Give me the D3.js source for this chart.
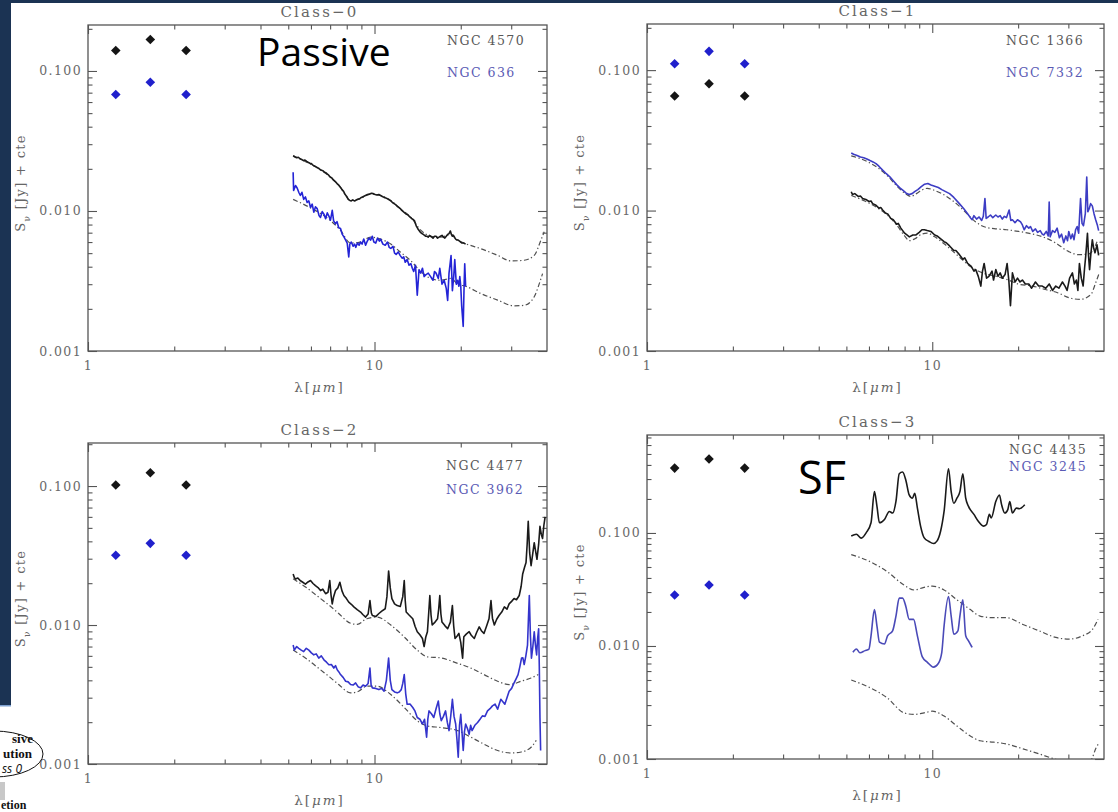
<!DOCTYPE html>
<html>
<head>
<meta charset="utf-8">
<script src="https://cdn.jsdelivr.net/npm/d3@7"></script>
<style>
  html, body { margin: 0; padding: 0; background: #fff; }
  svg { display: block; }
</style>
</head>
<body>
<svg id="fig" width="1118" height="812"></svg>
<script>
// ---------- data ----------
// near-IR photometry bands (J, H, Ks) in micron
const bandWavelengths = [1.25, 1.65, 2.2];

const panelTitles = ["Class\u22120", "Class\u22121", "Class\u22122", "Class\u22123"];
const blackGalaxies = ["NGC 4570", "NGC 1366", "NGC 4477", "NGC 4435"];
const blueGalaxies = ["NGC 636", "NGC 7332", "NGC 3962", "NGC 3245"];

const xTickValues = [1, 10];
const xTickLabels = ["1", "10"];
const yTickValues = [0.001, 0.01, 0.1];
const yTickLabels = ["0.001", "0.010", "0.100"];

// ---- Class-0 ----
const class0BlackPhot = [0.140, 0.168, 0.140];
const class0BluePhot = [0.068, 0.083, 0.068];
const class0BlackSpec = [[5.2,0.0248],[5.28,0.0243],[5.35,0.0240],[5.42,0.0242],[5.5,0.0236],[5.57,0.0233],[5.65,0.0229],[5.72,0.0231],[5.8,0.0226],[5.88,0.0222],[5.95,0.0219],[6.02,0.0218],[6.1,0.0212],[6.2,0.0209],[6.3,0.0205],[6.4,0.0201],[6.5,0.0196],[6.6,0.0194],[6.7,0.0189],[6.78,0.0187],[6.85,0.0183],[6.92,0.0180],[7.0,0.0175],[7.1,0.0172],[7.2,0.0166],[7.3,0.0162],[7.4,0.0157],[7.5,0.0153],[7.6,0.0148],[7.7,0.0142],[7.8,0.0138],[7.9,0.0131],[8.0,0.0127],[8.1,0.0121],[8.2,0.0119],[8.3,0.0118],[8.4,0.0120],[8.5,0.0118],[8.6,0.0119],[8.7,0.0121],[8.8,0.0122],[8.9,0.0123],[9.0,0.0125],[9.15,0.0127],[9.3,0.0129],[9.45,0.0131],[9.6,0.0132],[9.75,0.0134],[9.9,0.0133],[10.05,0.0131],[10.2,0.0130],[10.35,0.0131],[10.5,0.0129],[10.65,0.0127],[10.8,0.0125],[10.95,0.0124],[11.1,0.0122],[11.25,0.0120],[11.4,0.0118],[11.55,0.0115],[11.7,0.0113],[11.85,0.0111],[12.0,0.0108],[12.15,0.0106],[12.3,0.0104],[12.45,0.0101],[12.6,0.0099],[12.75,0.0097],[12.9,0.0095],[13.05,0.0094],[13.2,0.0092],[13.35,0.0090],[13.5,0.0088],[13.65,0.0087],[13.8,0.0085],[13.9,0.0081],[14.0,0.0078],[14.1,0.0076],[14.2,0.0074],[14.35,0.0072],[14.5,0.0070],[14.65,0.0069],[14.8,0.0068],[14.95,0.0067],[15.1,0.0066],[15.25,0.0066],[15.4,0.0065],[15.55,0.0067],[15.7,0.0066],[15.85,0.0065],[16.0,0.0064],[16.2,0.0066],[16.4,0.0066],[16.6,0.0064],[16.8,0.0065],[17.0,0.0066],[17.2,0.0067],[17.4,0.0065],[17.6,0.0064],[17.8,0.0066],[18.0,0.0068],[18.2,0.0069],[18.4,0.0072],[18.55,0.0068],[18.7,0.0066],[18.85,0.0067],[19.0,0.0065],[19.2,0.0063],[19.4,0.0062],[19.6,0.0062],[19.8,0.0061],[20.0,0.0060],[20.2,0.0059],[20.5,0.0059],[20.8,0.0058]];
const class0BlackModel = [[5.2,0.0248],[6.1,0.0211],[6.8,0.0184],[7.6,0.0148],[8.25,0.0119],[8.9,0.0122],[9.7,0.0132],[10.5,0.0129],[11.4,0.0119],[12.3,0.0104],[13.4,0.0090],[14.5,0.0073],[15.7,0.0066],[17.0,0.0065],[18.5,0.0068],[19.5,0.0062],[20.8,0.00584],[23.5,0.00538],[26.9,0.00482],[29.9,0.0044],[33.3,0.00445],[36.1,0.00482],[38.1,0.0062],[39.1,0.0071]];
const class0BlueSpec = [[5.2,0.0189],[5.22,0.0140],[5.3,0.0152],[5.37,0.0146],[5.45,0.0135],[5.51,0.0129],[5.58,0.0136],[5.66,0.0121],[5.74,0.0126],[5.82,0.0115],[5.9,0.0118],[5.98,0.0106],[6.06,0.0112],[6.14,0.0098],[6.22,0.0107],[6.31,0.0104],[6.4,0.0093],[6.48,0.0090],[6.57,0.0099],[6.66,0.0095],[6.75,0.0088],[6.84,0.0097],[6.93,0.0092],[7.02,0.0086],[7.12,0.0101],[7.2,0.0085],[7.31,0.0081],[7.4,0.0084],[7.5,0.0076],[7.61,0.0075],[7.72,0.0068],[7.83,0.0065],[7.93,0.0062],[8.03,0.0059],[8.13,0.0047],[8.2,0.0058],[8.3,0.0060],[8.42,0.0056],[8.52,0.0058],[8.6,0.0055],[8.72,0.0059],[8.84,0.0057],[8.94,0.0060],[9.05,0.0058],[9.17,0.0063],[9.31,0.0057],[9.44,0.0061],[9.56,0.0064],[9.69,0.0062],[9.82,0.0066],[9.95,0.0060],[10.1,0.0059],[10.25,0.0064],[10.4,0.0061],[10.5,0.0063],[10.7,0.0058],[10.9,0.0057],[11.1,0.0060],[11.25,0.0055],[11.4,0.0054],[11.6,0.0056],[11.75,0.0050],[11.9,0.0049],[12.1,0.0051],[12.3,0.0048],[12.5,0.0046],[12.65,0.0047],[12.8,0.0043],[13.0,0.0045],[13.2,0.0041],[13.4,0.0042],[13.55,0.0039],[13.7,0.0037],[13.9,0.0041],[14.1,0.0025],[14.3,0.0038],[14.5,0.0036],[14.7,0.0039],[14.9,0.0034],[15.1,0.0035],[15.4,0.0036],[15.7,0.0034],[16.0,0.0032],[16.2,0.0037],[16.4,0.0036],[16.7,0.0033],[16.9,0.0039],[17.2,0.0030],[17.5,0.0032],[17.8,0.0028],[18.0,0.0023],[18.2,0.0036],[18.5,0.0048],[18.7,0.0027],[18.9,0.0034],[19.06,0.0045],[19.3,0.0030],[19.5,0.0032],[19.7,0.0029],[19.85,0.0034],[20.0,0.0029],[20.15,0.0021],[20.4,0.0015],[20.55,0.0030],[20.65,0.0042],[20.8,0.0029]];
const class0BlueModel = [[5.2,0.0121],[6.1,0.0103],[6.8,0.0090],[7.6,0.0073],[8.25,0.0059],[8.9,0.0060],[9.7,0.0065],[10.5,0.0063],[11.4,0.0058],[12.3,0.0051],[13.4,0.0044],[14.5,0.0037],[15.7,0.0033],[17.0,0.0032],[18.5,0.0033],[19.5,0.0030],[20.8,0.0029],[23.5,0.00257],[26.9,0.00231],[30.7,0.0021],[33.3,0.00212],[36.1,0.00244],[37.6,0.00303],[38.6,0.00357]];

// ---- Class-1 ----
const class1BlackPhot = [0.0655, 0.080, 0.0655];
const class1BluePhot = [0.111, 0.136, 0.111];
const class1BlackSpec = [[5.2,0.0136],[5.25,0.0130],[5.35,0.0132],[5.5,0.0126],[5.6,0.0127],[5.7,0.0122],[5.85,0.0120],[6.0,0.0116],[6.1,0.0117],[6.18,0.0112],[6.35,0.0109],[6.5,0.0104],[6.6,0.0105],[6.7,0.0101],[6.85,0.0096],[7.0,0.0094],[7.15,0.0088],[7.3,0.0086],[7.5,0.0080],[7.6,0.0081],[7.76,0.0075],[8.0,0.0069],[8.15,0.0067],[8.31,0.0065],[8.55,0.0067],[8.77,0.0067],[9.0,0.0070],[9.2,0.0073],[9.38,0.0073],[9.6,0.0072],[9.89,0.0071],[10.2,0.0067],[10.4,0.0066],[10.6,0.0064],[11.0,0.0060],[11.2,0.0059],[11.5,0.0056],[11.9,0.0052],[12.1,0.0052],[12.4,0.0049],[12.8,0.0045],[13.0,0.0046],[13.3,0.0042],[13.7,0.0040],[14.0,0.0037],[14.2,0.0038],[14.5,0.0034],[14.8,0.0029],[15.0,0.0037],[15.2,0.0042],[15.5,0.0033],[15.8,0.0034],[16.2,0.0037],[16.4,0.0032],[16.7,0.0038],[17.0,0.0034],[17.3,0.0036],[17.6,0.0033],[18.0,0.0035],[18.3,0.0042],[18.55,0.0032],[18.8,0.0021],[19.1,0.0036],[19.5,0.0031],[19.9,0.0033],[20.3,0.0031],[20.7,0.0032],[21.2,0.0030],[21.8,0.0030],[22.3,0.0028],[23.0,0.0031],[23.6,0.0029],[24.3,0.0029],[25.0,0.0028],[25.7,0.0030],[26.4,0.0027],[27.1,0.0029],[27.8,0.0028],[28.6,0.0031],[29.2,0.0029],[29.7,0.0027],[30.3,0.0033],[31.0,0.0036],[31.5,0.0030],[32.0,0.0032],[32.4,0.0027],[32.8,0.0042],[33.3,0.0033],[33.8,0.0029],[34.2,0.0039],[34.5,0.0047],[35.0,0.0069],[35.3,0.0048],[35.6,0.0038],[36.0,0.0050],[36.4,0.0062],[36.8,0.0054],[37.2,0.0050],[37.8,0.0057],[38.3,0.0048]];
const class1BlackModel = [[5.2,0.0128],[5.8,0.0117],[6.4,0.0105],[7.0,0.0092],[7.5,0.0079],[8.0,0.0066],[8.3,0.0061],[8.7,0.0063],[9.2,0.0068],[9.6,0.0069],[10.2,0.0065],[11.0,0.0058],[12.4,0.0047],[13.6,0.0040],[15.0,0.0036],[16.8,0.0034],[18.5,0.0032],[20.0,0.0030],[22.5,0.0029],[24.9,0.00274],[27.5,0.0026],[30.1,0.0024],[33.0,0.00233],[36.0,0.00253],[37.4,0.00306],[38.5,0.0036]];
const class1BlueSpec = [[5.2,0.0257],[5.3,0.0252],[5.45,0.0247],[5.6,0.0241],[5.75,0.0238],[5.9,0.0233],[6.05,0.0227],[6.2,0.0222],[6.35,0.0216],[6.5,0.0207],[6.7,0.0194],[6.9,0.0183],[7.1,0.0174],[7.3,0.0163],[7.5,0.0153],[7.7,0.0145],[7.9,0.0139],[8.1,0.0133],[8.3,0.0130],[8.5,0.0132],[8.7,0.0137],[8.9,0.0141],[9.15,0.0148],[9.4,0.0154],[9.65,0.0156],[9.9,0.0152],[10.2,0.0149],[10.5,0.0146],[10.8,0.0141],[11.1,0.0137],[11.5,0.0132],[11.9,0.0124],[12.4,0.0113],[12.9,0.0103],[13.3,0.0095],[13.6,0.0089],[13.8,0.0086],[14.0,0.0092],[14.3,0.0087],[14.6,0.0090],[14.9,0.0085],[15.1,0.0091],[15.3,0.0122],[15.45,0.0088],[15.7,0.0090],[16.0,0.0093],[16.3,0.0089],[16.7,0.0093],[17.0,0.0090],[17.3,0.0092],[17.6,0.0087],[17.9,0.0091],[18.2,0.0089],[18.6,0.0101],[18.85,0.0085],[19.1,0.0086],[19.5,0.0082],[19.9,0.0086],[20.4,0.0083],[20.7,0.0079],[21.0,0.0073],[21.4,0.0078],[21.8,0.0075],[22.1,0.0077],[22.5,0.0071],[23.0,0.0074],[23.4,0.0070],[23.9,0.0072],[24.3,0.0068],[24.6,0.0067],[25.1,0.0071],[25.5,0.0066],[25.7,0.0115],[25.9,0.0065],[26.4,0.0072],[26.9,0.0070],[27.4,0.0075],[27.9,0.0064],[28.4,0.0068],[28.9,0.0059],[29.4,0.0066],[29.8,0.0061],[30.1,0.0071],[30.6,0.0063],[31.0,0.0068],[31.4,0.0062],[31.8,0.0073],[32.2,0.0077],[32.6,0.0069],[33.1,0.0122],[33.5,0.0081],[33.9,0.0078],[34.4,0.0095],[34.8,0.0173],[35.1,0.0098],[35.5,0.0103],[35.9,0.0112],[36.4,0.0108],[36.9,0.0095],[37.4,0.0086],[37.9,0.0079],[38.3,0.0072]];
const class1BlueModel = [[5.2,0.0245],[5.9,0.0224],[6.5,0.0199],[7.0,0.0175],[7.5,0.0150],[8.0,0.0133],[8.4,0.0126],[8.8,0.0132],[9.2,0.0140],[9.6,0.0144],[10.1,0.0140],[10.8,0.0132],[11.5,0.0122],[12.4,0.0108],[13.3,0.0094],[14.2,0.0083],[15.4,0.0076],[16.8,0.0074],[18.2,0.0073],[20.1,0.0071],[22.5,0.0068],[24.9,0.0064],[27.0,0.0059],[30.1,0.0051],[32.6,0.00485],[35.3,0.0049],[36.8,0.0053],[37.8,0.0060]];

// ---- Class-2 ----
const class2BlackPhot = [0.1016, 0.1245, 0.1016];
const class2BluePhot = [0.0318, 0.0387, 0.0318];
const class2BlackSpec = [[5.2,0.0233],[5.25,0.0220],[5.3,0.0214],[5.4,0.0218],[5.5,0.0209],[5.62,0.0203],[5.74,0.0197],[5.86,0.0204],[5.98,0.0209],[6.1,0.0199],[6.22,0.0192],[6.35,0.0186],[6.48,0.0177],[6.6,0.0181],[6.75,0.0168],[6.88,0.0172],[6.98,0.0209],[7.05,0.0165],[7.12,0.0142],[7.2,0.0160],[7.31,0.0177],[7.45,0.0185],[7.57,0.0203],[7.7,0.0176],[7.82,0.0163],[7.98,0.0155],[8.13,0.0146],[8.3,0.0141],[8.47,0.0135],[8.7,0.0129],[8.94,0.0124],[9.1,0.0119],[9.31,0.0114],[9.5,0.0120],[9.64,0.0150],[9.75,0.0122],[9.83,0.0117],[10.1,0.0115],[10.36,0.0121],[10.6,0.0126],[10.9,0.0131],[11.05,0.0160],[11.2,0.0245],[11.35,0.0185],[11.5,0.0155],[11.75,0.0142],[12.0,0.0138],[12.3,0.0136],[12.55,0.0160],[12.7,0.0209],[12.8,0.0150],[12.9,0.0124],[13.2,0.0118],[13.6,0.0111],[13.85,0.0098],[14.1,0.00895],[14.4,0.0085],[14.7,0.0080],[14.9,0.0070],[15.1,0.0082],[15.3,0.00895],[15.45,0.0120],[15.6,0.0163],[15.75,0.0118],[15.9,0.0100],[16.2,0.0104],[16.6,0.0111],[16.75,0.0130],[16.9,0.0163],[17.05,0.0120],[17.2,0.0105],[17.6,0.0099],[18.0,0.0094],[18.4,0.0105],[18.7,0.0138],[18.9,0.0098],[19.1,0.0080],[19.4,0.0083],[19.7,0.0087],[20.0,0.0075],[20.3,0.00578],[20.5,0.00824],[20.9,0.0086],[21.4,0.00895],[21.8,0.0084],[22.3,0.0080],[22.7,0.0088],[23.2,0.0097],[23.6,0.0091],[24.1,0.0087],[24.6,0.0098],[25.1,0.0111],[25.5,0.0150],[25.8,0.0112],[26.2,0.0100],[26.7,0.0110],[27.2,0.0117],[27.8,0.0124],[28.4,0.0135],[29.0,0.0130],[29.5,0.0142],[30.1,0.0148],[30.7,0.0155],[31.3,0.0152],[32.0,0.0163],[32.5,0.0190],[32.9,0.0233],[33.4,0.0260],[33.8,0.0282],[34.1,0.0380],[34.4,0.0557],[34.8,0.0330],[35.2,0.0267],[35.7,0.0330],[36.1,0.0391],[36.5,0.0340],[36.9,0.0297],[37.4,0.0380],[37.8,0.0513],[38.2,0.0450],[38.6,0.0420],[39.0,0.0520],[39.4,0.0600]];
const class2BlackModel = [[5.2,0.0215],[5.8,0.0185],[6.48,0.0155],[7.0,0.0137],[7.5,0.0121],[8.25,0.0103],[8.7,0.0101],[9.4,0.0111],[10.2,0.0114],[11.4,0.0100],[12.7,0.0082],[14.1,0.0066],[15.3,0.0059],[17.0,0.0058],[19.5,0.0053],[21.7,0.0049],[24.1,0.0044],[26.9,0.00394],[29.5,0.00373],[32.5,0.00394],[35.2,0.00416],[37.3,0.0044]];
const class2BlueSpec = [[5.2,0.00718],[5.25,0.0066],[5.35,0.0070],[5.44,0.0068],[5.55,0.0066],[5.66,0.00644],[5.78,0.0068],[5.9,0.0066],[6.02,0.0063],[6.14,0.0061],[6.26,0.0062],[6.39,0.00578],[6.52,0.0060],[6.66,0.00562],[6.8,0.0054],[6.93,0.00518],[7.07,0.0052],[7.21,0.0049],[7.31,0.0051],[7.41,0.00476],[7.51,0.0046],[7.61,0.0044],[7.77,0.0042],[7.93,0.00394],[8.09,0.0039],[8.25,0.00373],[8.42,0.0037],[8.59,0.00383],[8.76,0.0036],[8.94,0.00353],[9.12,0.0037],[9.31,0.00363],[9.5,0.0038],[9.64,0.0049],[9.73,0.0037],[9.83,0.00353],[10.1,0.0035],[10.36,0.00343],[10.6,0.0035],[10.8,0.00334],[11.0,0.0040],[11.2,0.00578],[11.35,0.0040],[11.5,0.00343],[11.75,0.0033],[12.0,0.00325],[12.2,0.0033],[12.4,0.00343],[12.55,0.0038],[12.7,0.0044],[12.85,0.0032],[13.0,0.00269],[13.3,0.0027],[13.6,0.00255],[13.85,0.0024],[14.1,0.00216],[14.4,0.0021],[14.7,0.00194],[14.95,0.0021],[15.2,0.00156],[15.35,0.0021],[15.5,0.00241],[15.8,0.0023],[16.1,0.00216],[16.4,0.0025],[16.7,0.00284],[16.9,0.0023],[17.1,0.00205],[17.4,0.0022],[17.7,0.00241],[17.95,0.0020],[18.2,0.00174],[18.45,0.0022],[18.7,0.00292],[18.95,0.0022],[19.2,0.00194],[19.4,0.0015],[19.6,0.00112],[19.8,0.0019],[20.0,0.00228],[20.2,0.0017],[20.4,0.00125],[20.6,0.0017],[20.8,0.00194],[21.1,0.0018],[21.4,0.00164],[21.65,0.0019],[21.9,0.00174],[22.4,0.0019],[22.9,0.00199],[23.35,0.0021],[23.8,0.00222],[24.3,0.0022],[24.8,0.00241],[25.3,0.0025],[25.8,0.00262],[26.35,0.0027],[26.9,0.00248],[27.25,0.0027],[27.6,0.00292],[28.05,0.0028],[28.5,0.00269],[29.0,0.0030],[29.5,0.00334],[30.1,0.0035],[30.7,0.00383],[31.2,0.0041],[31.7,0.0044],[32.15,0.0050],[32.6,0.00578],[32.95,0.0058],[33.3,0.0052],[33.75,0.0060],[34.2,0.00718],[34.45,0.0110],[34.7,0.0163],[35.0,0.0085],[35.3,0.00578],[35.7,0.0070],[36.1,0.00895],[36.45,0.0072],[36.8,0.0061],[37.1,0.0080],[37.4,0.0094],[37.6,0.0050],[37.8,0.00216],[38.0,0.00125]];
const class2BlueModel = [[5.2,0.0066],[5.8,0.0057],[6.48,0.00476],[7.0,0.00420],[7.5,0.00373],[8.25,0.00325],[8.8,0.00334],[9.4,0.00363],[10.2,0.00363],[11.4,0.00316],[12.7,0.00255],[14.1,0.00205],[15.3,0.00188],[17.0,0.00183],[19.5,0.00174],[21.7,0.00156],[24.1,0.00139],[26.9,0.00125],[30.0,0.0012],[32.5,0.00122],[35.2,0.00132],[36.7,0.00148]];

// ---- Class-3 ----
const class3BlackPhot = [0.375, 0.452, 0.375];
const class3BluePhot = [0.0283, 0.0346, 0.0283];
const class3BlackSpec = [[5.2,0.094],[5.42,0.0975],[5.64,0.090],[5.87,0.1006],[6.1,0.123],[6.27,0.232],[6.4,0.172],[6.53,0.123],[6.8,0.1316],[7.07,0.155],[7.26,0.150],[7.46,0.19],[7.66,0.334],[7.87,0.346],[8.08,0.293],[8.3,0.217],[8.52,0.203],[8.68,0.224],[8.87,0.166],[9.1,0.115],[9.36,0.091],[9.74,0.084],[10.1,0.0806],[10.4,0.0851],[10.7,0.104],[11.0,0.155],[11.4,0.37],[11.65,0.232],[11.9,0.183],[12.2,0.203],[12.5,0.232],[12.8,0.334],[13.1,0.203],[13.4,0.172],[14.0,0.146],[14.5,0.127],[15.1,0.115],[15.5,0.119],[15.85,0.146],[16.1,0.136],[16.7,0.19],[17.2,0.217],[17.5,0.178],[17.96,0.150],[18.4,0.161],[18.7,0.19],[19.1,0.150],[19.7,0.166],[20.2,0.164],[21.1,0.178]];
const class3BlackModel = [[5.2,0.0644],[6.1,0.0552],[6.97,0.0452],[7.96,0.0346],[8.64,0.0313],[9.36,0.033],[10.0,0.0339],[11.0,0.0313],[12.2,0.0256],[13.6,0.021],[14.7,0.0184],[16.4,0.0178],[18.2,0.0178],[20.8,0.0155],[23.7,0.0136],[27.1,0.0119],[30.2,0.0115],[33.6,0.0123],[36.5,0.0141],[38.1,0.0172]];
const class3BlueSpec = [[5.27,0.0088],[5.42,0.0094],[5.58,0.0087],[5.81,0.0091],[6.0,0.0094],[6.1,0.0123],[6.27,0.021],[6.4,0.015],[6.53,0.0108],[6.8,0.0104],[6.97,0.0123],[7.26,0.0136],[7.46,0.0184],[7.66,0.0265],[7.87,0.0265],[8.08,0.0224],[8.3,0.0172],[8.6,0.0172],[8.87,0.0123],[9.23,0.0080],[9.6,0.0072],[10.1,0.0065],[10.5,0.0070],[10.8,0.0088],[11.0,0.015],[11.4,0.0274],[11.65,0.0184],[11.9,0.0127],[12.3,0.0136],[12.5,0.0184],[12.8,0.0256],[13.1,0.0123],[13.4,0.0111],[13.8,0.0097]];
const class3BlueModel = [[5.2,0.005],[6.1,0.00423],[6.97,0.00346],[7.96,0.00256],[8.64,0.00248],[9.36,0.00256],[10.0,0.00265],[11.0,0.0024],[12.2,0.00196],[13.6,0.0016],[14.7,0.00145],[16.4,0.00141],[18.2,0.00136],[20.8,0.00123],[23.7,0.00111],[26.5,0.00101],[30.0,0.00093],[33.0,0.00092],[36.0,0.00098],[37.5,0.00125],[38.5,0.0014]];

// ---------- layout ----------
const svg = d3.select("#fig");
const serif = "'DejaVu Serif', serif";

const panels = [
  { title: panelTitles[0], left: 88,  right: 547,  top: 25,  bottom: 351, yMax: 0.213,
    blackName: blackGalaxies[0], blueName: blueGalaxies[0], nameX: 447, nameY1: 45, nameY2: 77,
    blackPhot: class0BlackPhot, bluePhot: class0BluePhot,
    blackSpec: class0BlackSpec, blackModel: class0BlackModel,
    blueSpec: class0BlueSpec, blueModel: class0BlueModel, blueColor: "#2424d6", smooth: false },
  { title: panelTitles[1], left: 647, right: 1104, top: 24,  bottom: 351, yMax: 0.213,
    blackName: blackGalaxies[1], blueName: blueGalaxies[1], nameX: 1006, nameY1: 45, nameY2: 77,
    blackPhot: class1BlackPhot, bluePhot: class1BluePhot,
    blackSpec: class1BlackSpec, blackModel: class1BlackModel,
    blueSpec: class1BlueSpec, blueModel: class1BlueModel, blueColor: "#3d3dc4", smooth: false },
  { title: panelTitles[2], left: 88,  right: 547,  top: 443, bottom: 764, yMax: 0.204,
    blackName: blackGalaxies[2], blueName: blueGalaxies[2], nameX: 446, nameY1: 470, nameY2: 494,
    blackPhot: class2BlackPhot, bluePhot: class2BluePhot,
    blackSpec: class2BlackSpec, blackModel: class2BlackModel,
    blueSpec: class2BlueSpec, blueModel: class2BlueModel, blueColor: "#3434cc", smooth: false },
  { title: panelTitles[3], left: 647, right: 1104, top: 435, bottom: 759, yMax: 0.736,
    blackName: blackGalaxies[3], blueName: blueGalaxies[3], nameX: 1009, nameY1: 454, nameY2: 471,
    blackPhot: class3BlackPhot, bluePhot: class3BluePhot,
    blackSpec: class3BlackSpec, blackModel: class3BlackModel,
    blueSpec: class3BlueSpec, blueModel: class3BlueModel, blueColor: "#4a4ab8", smooth: true }
];

function minorTicks(domain) {
  const out = [];
  const lo = Math.floor(Math.log10(domain[0])), hi = Math.ceil(Math.log10(domain[1]));
  for (let e = lo; e < hi; e++) {
    for (let m = 2; m <= 9; m++) {
      const v = m * Math.pow(10, e);
      if (v > domain[0] && v < domain[1]) out.push(v);
    }
  }
  return out;
}

function styleAxis(g) {
  g.select(".domain").remove();
  g.selectAll(".tick line").attr("stroke", "#555").attr("stroke-width", 1.1);
  g.selectAll(".tick text")
    .attr("fill", "#6a6a6a")
    .style("font-family", serif)
    .style("font-size", "12.5px")
    .style("letter-spacing", "1.4px");
}

panels.forEach((p, i) => {
  const x = d3.scaleLog().domain([1, 40]).range([p.left, p.right]);
  const y = d3.scaleLog().domain([0.001, p.yMax]).range([p.bottom, p.top]);
  const g = svg.append("g");
  const clipId = "plotclip" + i;
  svg.append("clipPath").attr("id", clipId)
    .append("rect")
    .attr("x", p.left).attr("y", p.top)
    .attr("width", p.right - p.left).attr("height", p.bottom - p.top);

  const xMinor = minorTicks(x.domain());
  const yMinor = minorTicks(y.domain());

  // bottom axis with labels, ticks pointing inwards
  g.append("g").attr("transform", `translate(0,${p.bottom})`)
    .call(d3.axisBottom(x).tickValues(xTickValues)
      .tickFormat((d, k) => xTickLabels[k]).tickSizeInner(-9).tickSizeOuter(0).tickPadding(10))
    .call(styleAxis);
  g.append("g").attr("transform", `translate(0,${p.bottom})`)
    .call(d3.axisBottom(x).tickValues(xMinor).tickFormat("").tickSizeInner(-4.5).tickSizeOuter(0))
    .call(styleAxis);
  // top mirror
  g.append("g").attr("transform", `translate(0,${p.top})`)
    .call(d3.axisTop(x).tickValues(xTickValues).tickFormat("").tickSizeInner(-9).tickSizeOuter(0))
    .call(styleAxis);
  g.append("g").attr("transform", `translate(0,${p.top})`)
    .call(d3.axisTop(x).tickValues(xMinor).tickFormat("").tickSizeInner(-4.5).tickSizeOuter(0))
    .call(styleAxis);
  // left axis with labels
  g.append("g").attr("transform", `translate(${p.left},0)`)
    .call(d3.axisLeft(y).tickValues(yTickValues)
      .tickFormat((d, k) => yTickLabels[k]).tickSizeInner(-9).tickSizeOuter(0).tickPadding(6))
    .call(styleAxis);
  g.append("g").attr("transform", `translate(${p.left},0)`)
    .call(d3.axisLeft(y).tickValues(yMinor).tickFormat("").tickSizeInner(-4.5).tickSizeOuter(0))
    .call(styleAxis);
  // right mirror
  g.append("g").attr("transform", `translate(${p.right},0)`)
    .call(d3.axisRight(y).tickValues(yTickValues).tickFormat("").tickSizeInner(-9).tickSizeOuter(0))
    .call(styleAxis);
  g.append("g").attr("transform", `translate(${p.right},0)`)
    .call(d3.axisRight(y).tickValues(yMinor).tickFormat("").tickSizeInner(-4.5).tickSizeOuter(0))
    .call(styleAxis);

  // frame
  g.append("rect")
    .attr("x", p.left).attr("y", p.top)
    .attr("width", p.right - p.left).attr("height", p.bottom - p.top)
    .attr("fill", "none").attr("stroke", "#555").attr("stroke-width", 1.3);

  // title
  g.append("text")
    .attr("x", (p.left + p.right) / 2 + 2).attr("y", p.top - 8)
    .attr("text-anchor", "middle")
    .attr("fill", "#666")
    .style("font-family", serif).style("font-size", "15px").style("letter-spacing", "2.2px")
    .text(p.title);

  // x title
  const xl = g.append("text")
    .attr("x", (p.left + p.right) / 2 + 2).attr("y", p.bottom + 41)
    .attr("text-anchor", "middle")
    .attr("fill", "#666")
    .style("font-family", serif).style("font-size", "13.5px").style("letter-spacing", "2px");
  xl.append("tspan").text("\u03bb[");
  xl.append("tspan").style("font-style", "italic").text("\u03bcm");
  xl.append("tspan").text("]");

  // y title
  const cy = (p.top + p.bottom) / 2 - 5;
  const yl = g.append("text")
    .attr("transform", `translate(${p.left - 63},${cy}) rotate(-90)`)
    .attr("text-anchor", "middle")
    .attr("fill", "#666")
    .style("font-family", serif).style("font-size", "13px").style("letter-spacing", "1.3px");
  yl.append("tspan").text("S");
  yl.append("tspan").attr("baseline-shift", "sub").style("font-size", "9px").text("\u03bd");
  yl.append("tspan").text(" [Jy] + cte");

  // galaxy names
  g.append("text").attr("x", p.nameX).attr("y", p.nameY1)
    .attr("fill", "#585858")
    .style("font-family", serif).style("font-size", "12.5px").style("letter-spacing", "1.5px")
    .text(p.blackName);
  g.append("text").attr("x", p.nameX).attr("y", p.nameY2)
    .attr("fill", "#5a5ab4")
    .style("font-family", serif).style("font-size", "12.5px").style("letter-spacing", "1.5px")
    .text(p.blueName);

  // model SEDs (dash-dot) and IRS spectra
  const modelLine = d3.line().x(d => x(d[0])).y(d => y(d[1])).curve(d3.curveMonotoneX);
  const specLine = d3.line().x(d => x(d[0])).y(d => y(d[1]))
    .curve(p.smooth ? d3.curveMonotoneX : d3.curveLinear);
  const plot = g.append("g").attr("clip-path", `url(#${clipId})`);
  [p.blackModel, p.blueModel].forEach(m => {
    plot.append("path").datum(m)
      .attr("d", modelLine)
      .attr("fill", "none").attr("stroke", "#505050").attr("stroke-width", 1.2)
      .attr("stroke-dasharray", "5,2.5,1.3,2.5");
  });
  plot.append("path").datum(p.blueSpec)
    .attr("d", specLine)
    .attr("fill", "none").attr("stroke", p.blueColor).attr("stroke-width", 1.6)
    .attr("stroke-linejoin", "round");
  plot.append("path").datum(p.blackSpec)
    .attr("d", specLine)
    .attr("fill", "none").attr("stroke", "#1a1a1a").attr("stroke-width", 1.6)
    .attr("stroke-linejoin", "round");

  // photometry diamonds
  const diamond = d3.symbol().type(d3.symbolSquare).size(46)();
  [[p.blackPhot, "#151515"], [p.bluePhot, "#2020cc"]].forEach(([vals, col]) => {
    g.selectAll(null).data(vals).join("path")
      .attr("d", diamond)
      .attr("transform", (d, k) => `translate(${x(bandWavelengths[k])},${y(d)}) rotate(45)`)
      .attr("fill", col);
  });
});

// slide annotations
svg.append("text").attr("x", 257).attr("y", 66)
  .attr("fill", "#000")
  .style("font-family", "'Open Sans', sans-serif").style("font-size", "39px")
  .text("Passive");
svg.append("text").attr("x", 798).attr("y", 494)
  .attr("fill", "#000")
  .style("font-family", "'Open Sans', sans-serif").style("font-size", "45px")
  .text("SF");

// slide frame pieces
svg.append("rect").attr("x", 0).attr("y", 0).attr("width", 1118).attr("height", 3).attr("fill", "#1b3353");
svg.append("rect").attr("x", 0).attr("y", 0).attr("width", 11).attr("height", 705).attr("fill", "#1b3353");
svg.append("rect").attr("x", 0).attr("y", 705).attr("width", 11).attr("height", 1.5).attr("fill", "#7da0d0");

// cropped diagram fragments at lower left
svg.append("ellipse").attr("cx", -6).attr("cy", 754).attr("rx", 49).attr("ry", 23)
  .attr("fill", "#fff").attr("stroke", "#111").attr("stroke-width", 1);
const frag = svg.append("g").style("font-family", "'Liberation Serif', serif").style("font-size", "13px")
  .style("font-weight", "bold").attr("fill", "#111").attr("text-anchor", "end");
frag.append("text").attr("x", 33).attr("y", 743).text("sive");
frag.append("text").attr("x", 32).attr("y", 758).text("ution");
svg.append("text").attr("x", 22).attr("y", 773).attr("text-anchor", "end")
  .style("font-family", "'Open Sans', sans-serif").style("font-size", "12px").style("font-style", "italic")
  .attr("fill", "#111").text("ss 0");
svg.append("rect").attr("x", 0).attr("y", 782).attr("width", 5).attr("height", 18).attr("fill", "#c8c8c8");
svg.append("text").attr("x", 1).attr("y", 809)
  .style("font-family", "'Liberation Serif', serif").style("font-size", "12px").style("font-weight", "bold")
  .attr("fill", "#111").text("etion");
</script>
</body>
</html>
